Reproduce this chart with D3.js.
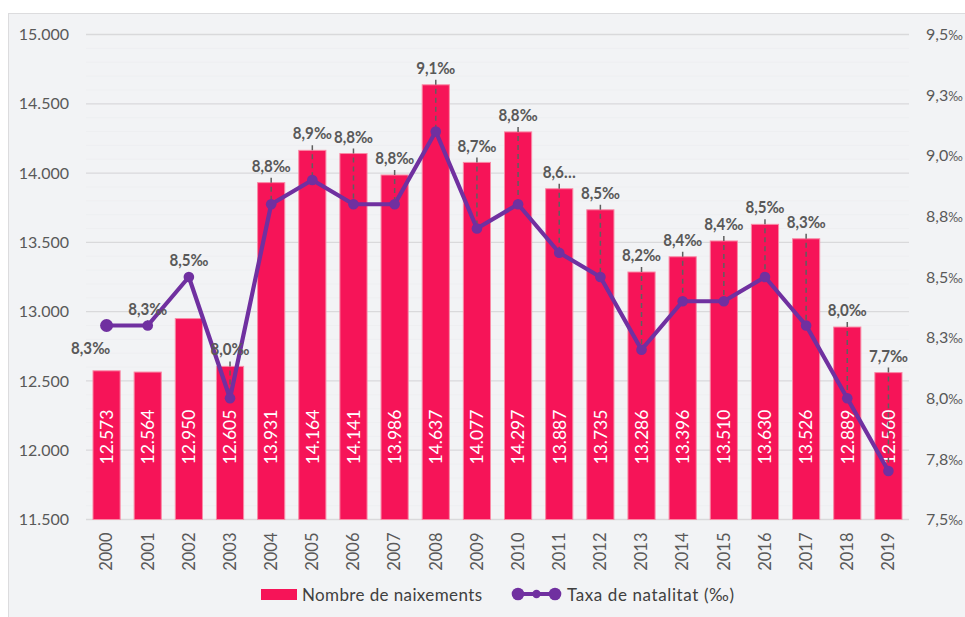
<!DOCTYPE html>
<html>
<head>
<meta charset="utf-8">
<script src="https://cdn.jsdelivr.net/npm/d3@7"></script>
<style>
  html, body { margin: 0; padding: 0; background: #ffffff; }
  svg { display: block; font-family: Lato, "Open Sans", "Liberation Sans", sans-serif; }
</style>
</head>
<body>
<svg id="chart" width="965" height="617"></svg>
<script>
// ---- data ----
const years = ["2000","2001","2002","2003","2004","2005","2006","2007","2008","2009",
               "2010","2011","2012","2013","2014","2015","2016","2017","2018","2019"];
const births = [12573,12564,12950,12605,13931,14164,14141,13986,14637,14077,
                14297,13887,13735,13286,13396,13510,13630,13526,12889,12560];
const birthRate = [8.3,8.3,8.5,8.0,8.8,8.9,8.8,8.8,9.1,8.7,
                   8.8,8.6,8.5,8.2,8.4,8.4,8.5,8.3,8.0,7.7];
const leftTicks = [11500,12000,12500,13000,13500,14000,14500,15000];
const rightTicks = [7.5,7.75,8.0,8.25,8.5,8.75,9.0,9.25,9.5];
const seriesNames = ["Nombre de naixements","Taxa de natalitat (‰)"];
const truncatedLabels = ["2011"]; // label shown truncated in the source

// ---- layout ----
const W = 965, H = 617;
const plot = {left: 86, right: 909, top: 34.5, bottom: 519.5};
const svg = d3.select("#chart");
const FONT = "Lato, 'Open Sans', sans-serif";

const loc = d3.formatLocale({decimal: ",", thousands: ".", grouping: [3], currency: ["", ""]});
const fmtInt = loc.format(",.0f");
const fmtNum = v => d3.format(".1f")(v).replace(".", ",");
const fmtRate = v => fmtNum(v) + "‰";

// background panel
svg.append("rect").attr("x", 8.5).attr("y", 13.5).attr("width", W).attr("height", H)
  .attr("fill", "#f2f3f5").attr("stroke", "#dcdcde").attr("stroke-width", 1);

const x = d3.scaleBand().domain(years).range([plot.left, plot.right])
  .paddingInner(0.34).paddingOuter(0.17);
const yL = d3.scaleLinear().domain([11500, 15000]).range([plot.bottom, plot.top]);
const yR = d3.scaleLinear().domain([7.5, 9.5]).range([plot.bottom, plot.top]);

// faint minor stripes
const minor = d3.range(11600, 15000, 100).filter(v => v % 500 !== 0);
svg.append("g").selectAll("line").data(minor).join("line")
  .attr("x1", plot.left).attr("x2", plot.right)
  .attr("y1", d => yL(d)).attr("y2", d => yL(d))
  .attr("stroke", "#eeeff1").attr("stroke-width", 1);

// left axis gridlines + labels
const axL = d3.axisLeft(yL).tickValues(leftTicks).tickSize(0).tickPadding(17)
  .tickFormat(d => fmtInt(d));
const gL = svg.append("g").attr("transform", `translate(${plot.left},0)`).call(axL);
gL.select(".domain").remove();
gL.selectAll("text").attr("fill", "#595959").style("font-size", "16px")
  .style("font-family", FONT);

svg.append("g").selectAll("line").data(leftTicks).join("line")
  .attr("x1", plot.left).attr("x2", plot.right)
  .attr("y1", d => yL(d)).attr("y2", d => yL(d))
  .attr("stroke", "#d9d9db").attr("stroke-width", 1.3);

// right axis labels (number + smaller per-mille sign)
const axR = d3.axisRight(yR).tickValues(rightTicks).tickSize(0).tickPadding(17)
  .tickFormat(d => fmtNum(d));
const gR = svg.append("g").attr("transform", `translate(${plot.right},0)`).call(axR);
gR.select(".domain").remove();
gR.selectAll("text").attr("fill", "#595959").style("font-size", "16px")
  .style("font-family", FONT)
  .append("tspan").style("font-size", "12.5px").text("‰");

// x axis labels (rotated)
const axX = d3.axisBottom(x).tickSize(0).tickPadding(0);
const gX = svg.append("g").attr("transform", `translate(0,${plot.bottom})`).call(axX);
gX.select(".domain").remove();
gX.selectAll("text")
  .attr("transform", "rotate(-90)")
  .attr("x", -13).attr("y", 0).attr("dy", "0.35em")
  .attr("text-anchor", "end")
  .attr("fill", "#595959").style("font-size", "16.5px")
  .style("font-family", FONT);

// bars
svg.append("g").selectAll("rect").data(years).join("rect")
  .attr("x", d => x(d)).attr("width", x.bandwidth())
  .attr("y", (d, i) => yL(births[i]))
  .attr("height", (d, i) => plot.bottom - yL(births[i]))
  .attr("fill", "#f61458").attr("stroke", "#f98aa6").attr("stroke-width", 1);

// bar value labels (inside base, rotated)
svg.append("g").selectAll("text").data(years).join("text")
  .attr("transform", d => `translate(${x(d) + x.bandwidth() / 2},${plot.bottom - 55}) rotate(-90)`)
  .attr("dy", "0.36em")
  .attr("text-anchor", "start")
  .attr("fill", "#ffffff").style("font-size", "17.5px")
  .text((d, i) => fmtInt(births[i]));

// rate label positions
const cx = d => x(d) + x.bandwidth() / 2;
const labels = years.map((d, i) => {
  const py = yR(birthRate[i]);
  const by = yL(births[i]);
  let lx = cx(d), ly = Math.min(py, by) - 17;
  if (i === 0) { lx = cx(d) - 16; ly = py + 22; }
  return {year: d, i, px: cx(d), py, lx, ly};
});

// leader lines
svg.append("g").selectAll("line").data(labels.filter(l => l.i !== 0)).join("line")
  .attr("x1", l => l.lx).attr("x2", l => l.px)
  .attr("y1", l => l.ly + 12).attr("y2", l => l.py)
  .attr("stroke", "#5f5f5f").attr("stroke-width", 1.5)
  .attr("stroke-dasharray", "5,4");

// line series
const line = d3.line().x((d, i) => cx(years[i])).y(d => yR(d));
svg.append("path").datum(birthRate)
  .attr("d", line).attr("fill", "none")
  .attr("stroke", "#7030a0").attr("stroke-width", 4.2).attr("stroke-linejoin", "round");
svg.append("g").selectAll("circle").data(birthRate).join("circle")
  .attr("cx", (d, i) => cx(years[i])).attr("cy", d => yR(d))
  .attr("r", (d, i) => i === 0 ? 6.5 : 5.3)
  .attr("fill", "#7030a0");

// rate labels
svg.append("g").selectAll("text").data(labels).join("text")
  .attr("x", l => l.lx).attr("y", l => l.ly).attr("dy", "0.36em")
  .attr("text-anchor", "middle")
  .attr("fill", "#595959").style("font-size", "17px").style("font-weight", "bold")
  .each(function (l) {
    const t = d3.select(this);
    if (truncatedLabels.includes(l.year)) {
      t.text(fmtRate(birthRate[l.i]).replace("‰", "…")).attr("textLength", 33);
    } else {
      t.text(fmtRate(birthRate[l.i])).attr("textLength", 39);
    }
    t.attr("lengthAdjust", "spacingAndGlyphs");
  });

// legend
const lg = svg.append("g");
lg.append("rect").attr("x", 261).attr("y", 589).attr("width", 36).attr("height", 11)
  .attr("fill", "#f61458");
lg.append("text").attr("x", 302).attr("y", 595).attr("dy", "0.36em")
  .attr("fill", "#404040").style("font-size", "17px")
  .attr("textLength", 180).attr("lengthAdjust", "spacing").text(seriesNames[0]);
lg.append("line").attr("x1", 518).attr("x2", 555).attr("y1", 594).attr("y2", 594)
  .attr("stroke", "#7030a0").attr("stroke-width", 4.2);
[[518, 6.3], [536.5, 4.2], [555, 6.3]].forEach(([px, r]) =>
  lg.append("circle").attr("cx", px).attr("cy", 594).attr("r", r).attr("fill", "#7030a0"));
lg.append("text").attr("x", 567).attr("y", 595).attr("dy", "0.36em")
  .attr("fill", "#404040").style("font-size", "17px")
  .attr("textLength", 167).attr("lengthAdjust", "spacing").text(seriesNames[1]);
</script>
</body>
</html>
